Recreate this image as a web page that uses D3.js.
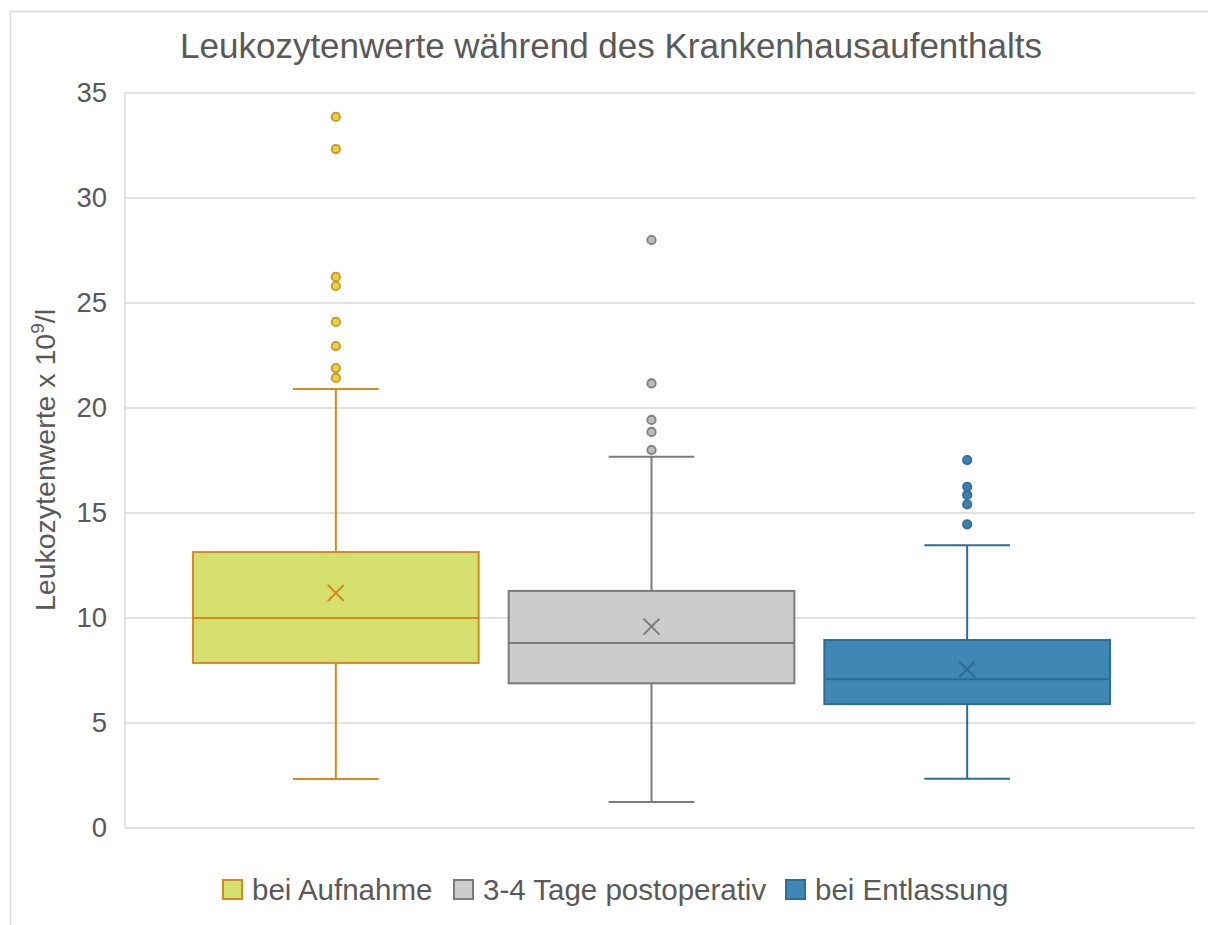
<!DOCTYPE html>
<html>
<head>
<meta charset="utf-8">
<script src="https://cdn.jsdelivr.net/npm/d3@7"></script>
<style>
  html, body { margin: 0; padding: 0; background: #fff; }
  svg { display: block; font-family: "Liberation Sans", Arial, sans-serif; }
</style>
</head>
<body>
<svg id="chart" width="1208" height="925"></svg>
<script>
// ---- data ----
const categories = ["bei Aufnahme", "3-4 Tage postoperativ", "bei Entlassung"];
const whiskerLow  = [2.33, 1.24, 2.35];
const q1          = [7.86, 6.89, 5.90];
const median      = [10.0, 8.81, 7.08];
const q3          = [13.14, 11.29, 8.95];
const whiskerHigh = [20.9, 17.68, 13.46];
const means       = [11.19, 9.59, 7.56];
const outliersAufnahme   = [33.86, 32.33, 26.24, 25.81, 24.1, 22.95, 21.9, 21.43];
const outliersPostop     = [28.0, 21.17, 19.43, 18.86, 18.0];
const outliersEntlassung = [17.52, 16.25, 15.86, 15.41, 14.46];
const outliers = [outliersAufnahme, outliersPostop, outliersEntlassung];
const yTicks = [0, 5, 10, 15, 20, 25, 30, 35];

const title = "Leukozytenwerte während des Krankenhausaufenthalts";

// ---- styles ----
const fills        = ["#d4df6e", "#cccccc", "#3f88b6"];
const strokes      = ["#d6891e", "#7b7b7b", "#2f6c94"];
const dotFills     = ["#efcd45", "#bdbdbd", "#3b80b2"];
const dotStrokes   = ["#c39a22", "#7f7f7f", "#2f6f9e"];
const textColor = "#595959";
const gridColor = "#d9d9d9";

const svg = d3.select("#chart");

// outer frame
svg.append("rect").attr("x", 10.5).attr("y", 11.5).attr("width", 1230).attr("height", 1000)
  .attr("fill", "none").attr("stroke", "#d9d9d9").attr("stroke-width", 1.5);

const plotLeft = 125, plotRight = 1195;
const y = d3.scaleLinear().domain([0, 35]).range([828, 93]);
const x = d3.scaleBand().domain(categories).range([178, 1125])
  .paddingInner(0.095).paddingOuter(0.0475);

// gridlines
svg.append("g").selectAll("line").data(yTicks).join("line")
  .attr("x1", plotLeft).attr("x2", plotRight)
  .attr("y1", d => y(d)).attr("y2", d => y(d))
  .attr("stroke", gridColor).attr("stroke-width", 1.5);

// y axis line
svg.append("line").attr("x1", plotLeft).attr("x2", plotLeft)
  .attr("y1", y(35)).attr("y2", y(0))
  .attr("stroke", gridColor).attr("stroke-width", 1.5);

// y axis labels
const yAxis = d3.axisLeft(y).tickValues(yTicks).tickSize(0).tickPadding(0);
const gy = svg.append("g").attr("transform", `translate(${107},0)`).call(yAxis);
gy.select(".domain").remove();
gy.selectAll("text").attr("fill", textColor).attr("font-size", 27.5)
  .attr("font-family", "Liberation Sans, Arial, sans-serif");

// y axis title
const yt = svg.append("text")
  .attr("transform", `translate(55,${460}) rotate(-90)`)
  .attr("text-anchor", "middle").attr("fill", textColor).attr("font-size", 28.5);
yt.append("tspan").text("Leukozytenwerte x 10");
yt.append("tspan").attr("font-size", 19).attr("dy", -11).text("9");
yt.append("tspan").attr("dy", 11).text("/l");

// chart title
svg.append("text").attr("x", 611).attr("y", 58).attr("text-anchor", "middle")
  .attr("fill", textColor).attr("font-size", 35).text(title);

// boxes
const bw = x.bandwidth();
const capW = bw * 0.3;
categories.forEach((c, i) => {
  const g = svg.append("g");
  const cx = x(c) + bw / 2;
  // whiskers
  g.append("line").attr("x1", cx).attr("x2", cx).attr("y1", y(q3[i])).attr("y2", y(whiskerHigh[i]))
    .attr("stroke", strokes[i]).attr("stroke-width", 2);
  g.append("line").attr("x1", cx).attr("x2", cx).attr("y1", y(q1[i])).attr("y2", y(whiskerLow[i]))
    .attr("stroke", strokes[i]).attr("stroke-width", 2);
  g.append("line").attr("x1", cx - capW / 2).attr("x2", cx + capW / 2)
    .attr("y1", y(whiskerHigh[i])).attr("y2", y(whiskerHigh[i]))
    .attr("stroke", strokes[i]).attr("stroke-width", 2);
  g.append("line").attr("x1", cx - capW / 2).attr("x2", cx + capW / 2)
    .attr("y1", y(whiskerLow[i])).attr("y2", y(whiskerLow[i]))
    .attr("stroke", strokes[i]).attr("stroke-width", 2);
  // box
  g.append("rect").attr("x", x(c)).attr("width", bw)
    .attr("y", y(q3[i])).attr("height", y(q1[i]) - y(q3[i]))
    .attr("fill", fills[i]).attr("stroke", strokes[i]).attr("stroke-width", 2);
  // median
  g.append("line").attr("x1", x(c)).attr("x2", x(c) + bw)
    .attr("y1", y(median[i])).attr("y2", y(median[i]))
    .attr("stroke", strokes[i]).attr("stroke-width", 2);
  // mean X
  const m = 8, my = y(means[i]);
  g.append("path")
    .attr("d", `M${cx - m},${my - m}L${cx + m},${my + m}M${cx - m},${my + m}L${cx + m},${my - m}`)
    .attr("stroke", strokes[i]).attr("stroke-width", 2).attr("fill", "none");
  // outliers
  g.selectAll("circle").data(outliers[i]).join("circle")
    .attr("cx", cx).attr("cy", d => y(d)).attr("r", 4.2)
    .attr("fill", dotFills[i]).attr("stroke", dotStrokes[i]).attr("stroke-width", 1.8);
});

// legend
const legendItems = [
  { label: categories[0], x: 222 },
  { label: categories[1], x: 453 },
  { label: categories[2], x: 785 }
];
const lg = svg.append("g");
legendItems.forEach((it, i) => {
  lg.append("rect").attr("x", it.x + 1).attr("y", 880).attr("width", 19).attr("height", 19)
    .attr("fill", fills[i]).attr("stroke", strokes[i]).attr("stroke-width", 2);
  lg.append("text").attr("x", it.x + 30).attr("y", 900).attr("fill", textColor)
    .attr("font-size", 29.5).text(it.label);
});
</script>
</body>
</html>
